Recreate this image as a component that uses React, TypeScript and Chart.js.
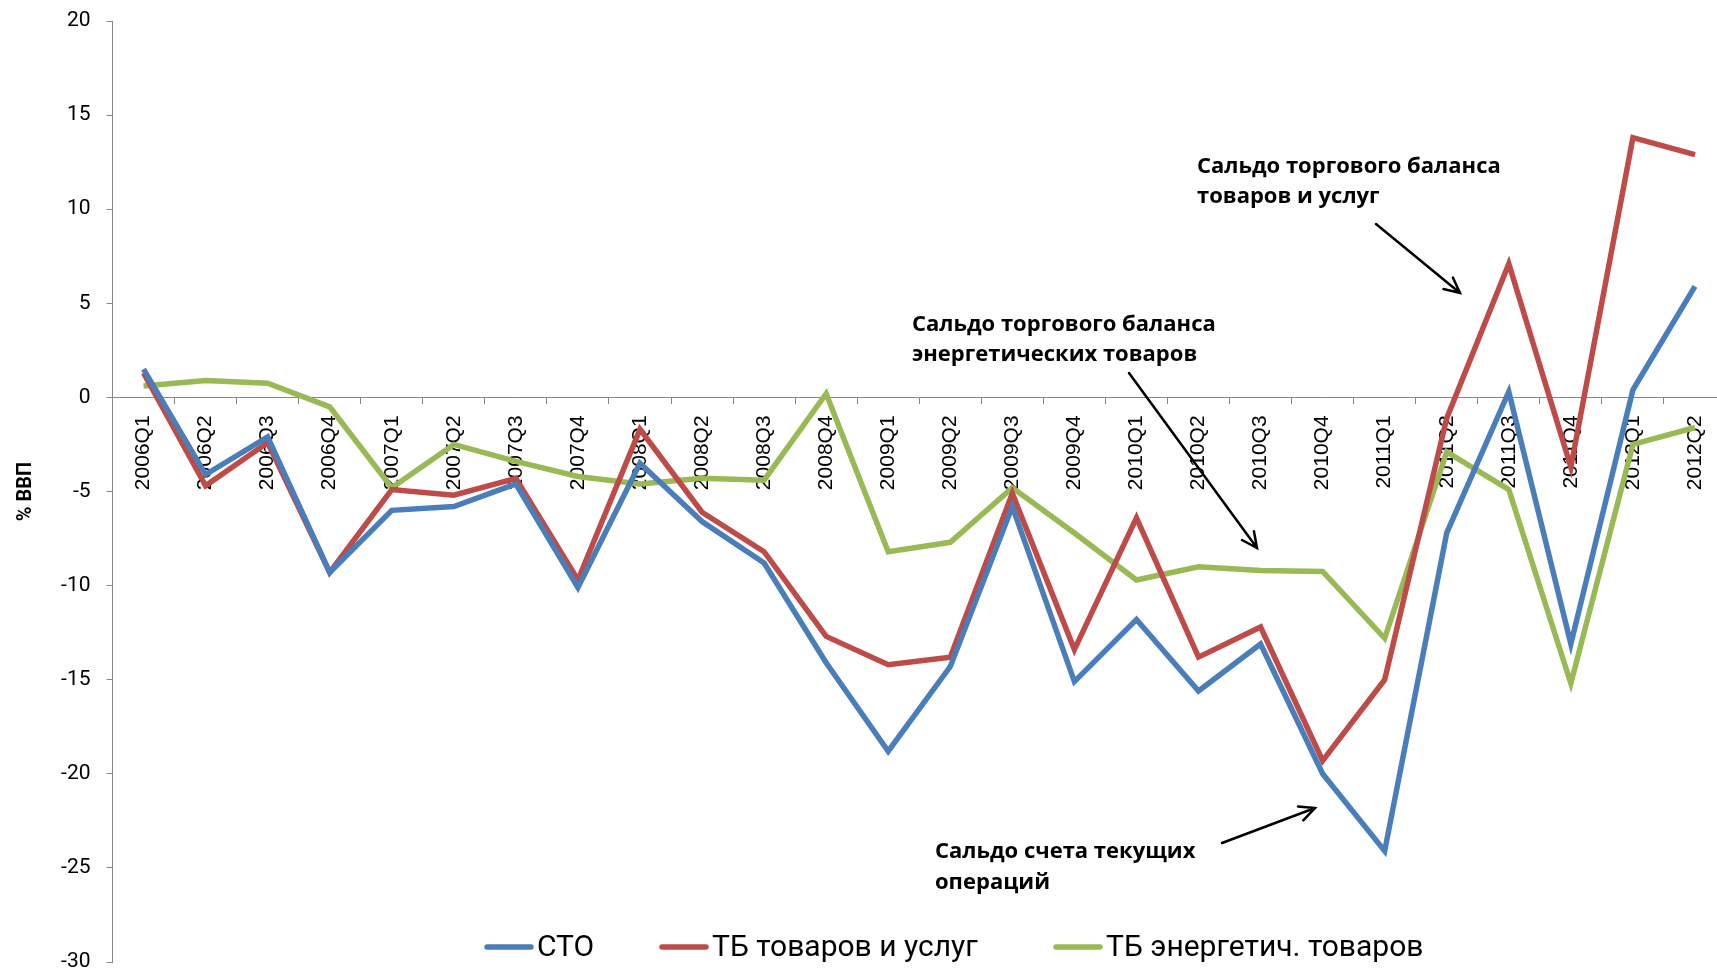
import React, { useEffect, useRef } from "react";
import { Chart, registerables } from "chart.js";

Chart.register(...registerables);

// Quarterly balances, % of GDP
const quarters = [
  "2006Q1", "2006Q2", "2006Q3", "2006Q4",
  "2007Q1", "2007Q2", "2007Q3", "2007Q4",
  "2008Q1", "2008Q2", "2008Q3", "2008Q4",
  "2009Q1", "2009Q2", "2009Q3", "2009Q4",
  "2010Q1", "2010Q2", "2010Q3", "2010Q4",
  "2011Q1", "2011Q2", "2011Q3", "2011Q4",
  "2012Q1", "2012Q2",
];

const currentAccount = [
  1.5, -4.1, -2.1, -9.3, -6.0, -5.8, -4.6, -10.1, -3.5, -6.6, -8.8, -14.1, -18.8,
  -14.3, -5.8, -15.1, -11.8, -15.6, -13.1, -20.0, -24.1, -7.2, 0.3, -13.1, 0.4, 5.9,
];

const goodsServicesBalance = [
  1.3, -4.7, -2.4, -9.3, -4.9, -5.2, -4.3, -9.7, -1.7, -6.1, -8.2, -12.7, -14.2,
  -13.8, -5.1, -13.4, -6.4, -13.8, -12.2, -19.3, -15.0, -1.1, 7.1, -3.7, 13.8, 12.9,
];

const energyBalance = [
  0.6, 0.9, 0.75, -0.5, -4.8, -2.5, -3.4, -4.2, -4.6, -4.3, -4.4, 0.2, -8.2,
  -7.7, -4.8, -7.2, -9.7, -9.0, -9.2, -9.25, -12.8, -2.9, -4.9, -15.2, -2.5, -1.6,
];

const seriesNames = ["СТО", "ТБ товаров и услуг", "ТБ энергетич. товаров"];
const yTickValues = [-30, -25, -20, -15, -10, -5, 0, 5, 10, 15, 20];
const yAxisTitle = "% ВВП";

const calloutTexts = [
  ["Сальдо торгового баланса", "товаров и услуг"],
  ["Сальдо торгового баланса", "энергетических товаров"],
  ["Сальдо счета текущих", "операций"],
];

// Placement of the callouts (canvas pixels)
const calloutLayout = [
  { x: 1197, y: 173, gap: 30, from: [1376, 224], to: [1460, 293] },
  { x: 912, y: 331, gap: 30, from: [1129, 373], to: [1257, 548] },
  { x: 935, y: 858, gap: 31, from: [1222, 843], to: [1315, 808] },
];

const legendStarts = [485, 660, 1054];
const legendY = 947;

const COLORS = ["#4A7EBB", "#BE4B48", "#98B954"];
const AXIS_GREY = "#868686";

function drawArrow(ctx: CanvasRenderingContext2D, from: number[], to: number[]) {
  const [x1, y1] = from;
  const [x2, y2] = to;
  const ang = Math.atan2(y2 - y1, x2 - x1);
  const head = 17;
  const spread = 0.45;
  ctx.beginPath();
  ctx.moveTo(x1, y1);
  ctx.lineTo(x2, y2);
  ctx.moveTo(x2 - head * Math.cos(ang - spread), y2 - head * Math.sin(ang - spread));
  ctx.lineTo(x2, y2);
  ctx.lineTo(x2 - head * Math.cos(ang + spread), y2 - head * Math.sin(ang + spread));
  ctx.stroke();
}

const overlayPlugin = {
  id: "overlayNotes",
  afterDraw(chart: any) {
    const ctx: CanvasRenderingContext2D = chart.ctx;
    ctx.save();

    // callouts with arrows
    ctx.fillStyle = "#000";
    ctx.strokeStyle = "#000";
    ctx.lineWidth = 2.5;
    ctx.lineCap = "round";
    ctx.lineJoin = "miter";
    ctx.font = "bold 22px 'Open Sans'";
    ctx.textBaseline = "alphabetic";
    ctx.textAlign = "left";
    calloutTexts.forEach((lines, i) => {
      const c = calloutLayout[i];
      lines.forEach((t, j) => ctx.fillText(t, c.x, c.y + j * c.gap));
      drawArrow(ctx, c.from, c.to);
    });

    // legend
    ctx.font = "30px Roboto";
    ctx.textBaseline = "middle";
    chart.data.datasets.forEach((ds: any, i: number) => {
      const x0 = legendStarts[i];
      ctx.strokeStyle = ds.borderColor;
      ctx.lineWidth = 5.5;
      ctx.lineCap = "round";
      ctx.beginPath();
      ctx.moveTo(x0 + 2, legendY);
      ctx.lineTo(x0 + 46, legendY);
      ctx.stroke();
      ctx.fillStyle = "#000";
      ctx.fillText(ds.label, x0 + 52, legendY + 1);
    });

    ctx.restore();
  },
};

export default function App() {
  const canvasRef = useRef<HTMLCanvasElement | null>(null);

  useEffect(() => {
    const canvas = canvasRef.current;
    if (!canvas) return;

    const series = [currentAccount, goodsServicesBalance, energyBalance];

    const chart = new Chart(canvas, {
      type: "line",
      data: {
        labels: quarters,
        datasets: series.map((values, i) => ({
          label: seriesNames[i],
          data: values,
          borderColor: COLORS[i],
          backgroundColor: COLORS[i],
          borderWidth: 5.5,
          pointRadius: 0,
          pointHoverRadius: 0,
          tension: 0,
          fill: false,
        })),
      },
      options: {
        responsive: false,
        animation: false,
        devicePixelRatio: 1,
        layout: { padding: { top: 21, right: 4, bottom: 6, left: 0 } },
        plugins: {
          legend: { display: false },
          tooltip: { enabled: false },
        },
        scales: {
          x: {
            type: "category",
            position: { y: 0 } as any,
            offset: true,
            z: 1,
            grid: {
              offset: true,
              drawOnChartArea: false,
              drawTicks: true,
              tickLength: 6,
              color: AXIS_GREY,
              lineWidth: 1,
            },
            border: { display: true, color: AXIS_GREY, width: 1 },
            ticks: {
              autoSkip: false,
              minRotation: 90,
              maxRotation: 90,
              padding: 12,
              color: "#000",
              font: { family: "'Liberation Sans'", size: 21 },
            },
            afterFit: (s: any) => {
              s.paddingLeft = 0;
              s.paddingRight = 0;
            },
          },
          y: {
            type: "linear",
            min: yTickValues[0],
            max: yTickValues[yTickValues.length - 1],
            afterBuildTicks: (s: any) => {
              s.ticks = yTickValues.map((v) => ({ value: v }));
            },
            afterFit: (s: any) => {
              s.width = 112.5;
              s.paddingTop = 0;
              s.paddingBottom = 0;
            },
            grid: {
              drawOnChartArea: false,
              drawTicks: true,
              tickLength: 6,
              color: AXIS_GREY,
              lineWidth: 1,
            },
            border: { display: true, color: AXIS_GREY, width: 1 },
            ticks: {
              padding: 16,
              color: "#000",
              font: { family: "Roboto", size: 21 },
            },
            title: {
              display: true,
              text: yAxisTitle,
              color: "#000",
              font: { family: "Roboto", size: 20, weight: "bold" },
              padding: { top: 14, bottom: 0 },
            },
          },
        },
      },
      plugins: [overlayPlugin],
    });

    return () => chart.destroy();
  }, []);

  return (
    <div
      style={{
        position: "absolute",
        left: 0,
        top: 0,
        width: 1717,
        height: 968,
        overflow: "hidden",
        background: "#fff",
      }}
    >
      <canvas ref={canvasRef} width={1730} height={968} style={{ display: "block" }} />
    </div>
  );
}
